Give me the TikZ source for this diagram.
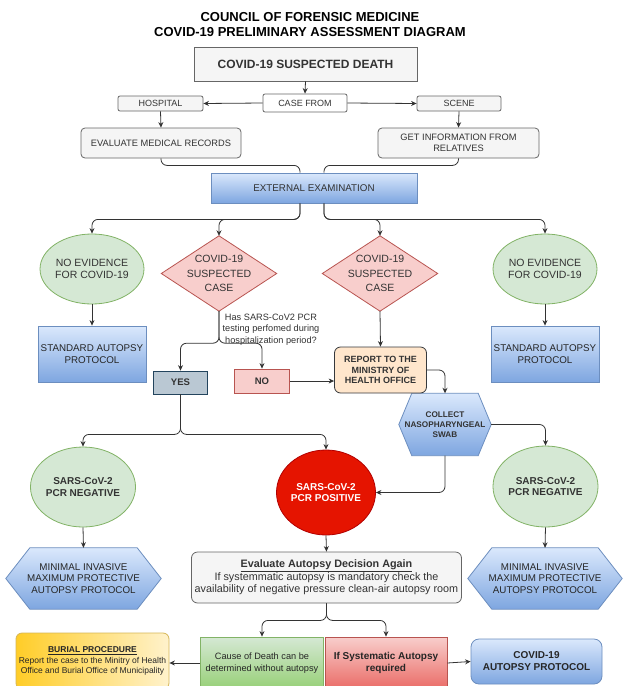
\documentclass[tikz,border=0pt]{standalone}
\usepackage{fontspec}
\setmainfont{Liberation Sans}
\usetikzlibrary{arrows.meta,shapes.geometric,calc,backgrounds}
\definecolor{txtc}{HTML}{333333}
\definecolor{linec}{HTML}{333333}
\definecolor{gbf}{HTML}{F5F5F5}
\definecolor{gbd}{HTML}{666666}
\definecolor{blueT}{HTML}{DAE8FC}
\definecolor{blueB}{HTML}{7EA6E0}
\definecolor{blueD}{HTML}{6C8EBF}
\definecolor{greenF}{HTML}{D5E8D4}
\definecolor{greenD}{HTML}{82B366}
\definecolor{greenB}{HTML}{97D077}
\definecolor{redF}{HTML}{F8CECC}
\definecolor{redD}{HTML}{B85450}
\definecolor{redB}{HTML}{EA6B66}
\definecolor{yesF}{HTML}{BAC8D3}
\definecolor{yesD}{HTML}{23445D}
\definecolor{peachF}{HTML}{FFE6CC}
\definecolor{peachD}{HTML}{36393D}
\definecolor{posF}{HTML}{E51400}
\definecolor{posD}{HTML}{B20000}
\definecolor{yelL}{HTML}{FFCD28}
\definecolor{yelR}{HTML}{FFF2CC}
\definecolor{yelD}{HTML}{D6B656}
\newcommand\fsz[2]{\fontsize{#1pt}{#2pt}\selectfont}
\begin{document}
\begin{tikzpicture}[x=1pt,y=-1pt,
  base/.style={line width=0.8pt, inner sep=0pt, align=center, text=txtc},
  graybox/.style={base, draw=gbd, fill=gbf},
  bluebox/.style={base, draw=blueD, top color=blueT, bottom color=blueB},
  greenell/.style={base, ellipse, draw=greenD, fill=greenF},
  invis/.style={inner sep=0pt, align=center, text=txtc},
  polyblue/.style={line width=0.8pt, draw=blueD, top color=blueT, bottom color=blueB},
  polyred/.style={line width=0.8pt, draw=redD, fill=redF},
  conn/.style={line width=0.8pt, draw=linec, rounded corners=6pt},
  arr/.style={conn, -{Stealth[length=5.5pt,width=5pt]}},
]
\useasboundingbox (0,0) rectangle (622,686);

% title
\node[invis, font=\bfseries\fsz{13}{15}, text=black] (title) at (310,24.5)
  {COUNCIL OF FORENSIC MEDICINE\\COVID-19 PRELIMINARY ASSESSMENT DIAGRAM};

% top part
\node[graybox, minimum width=223pt, minimum height=34pt, font=\bfseries\fsz{12}{14}] (death) at (305.5,64) {COVID-19 SUSPECTED DEATH};
\node[base, draw=gbd, fill=white, rounded corners=2pt, minimum width=84pt, minimum height=18pt, font=\fsz{9}{11}] (casefrom) at (305,103) {CASE FROM};
\node[graybox, rounded corners=2pt, minimum width=85pt, minimum height=15pt, font=\fsz{9}{11}] (hospital) at (160.5,103.5) {HOSPITAL};
\node[graybox, rounded corners=2pt, minimum width=84pt, minimum height=15pt, font=\fsz{9}{11}] (scene) at (459,103.5) {SCENE};
\node[graybox, rounded corners=4pt, minimum width=160pt, minimum height=30pt, font=\fsz{9.3}{11}] (eval) at (161,143) {EVALUATE MEDICAL RECORDS};
\node[graybox, rounded corners=4pt, minimum width=161pt, minimum height=30pt, font=\fsz{9.3}{11}] (getinfo) at (458.5,143) {GET INFORMATION FROM\\RELATIVES};
\node[bluebox, minimum width=206pt, minimum height=30pt, font=\fsz{9.8}{12}] (ext) at (314,188) {EXTERNAL EXAMINATION};

% second row
\node[greenell, minimum width=94pt, minimum height=70pt, font=\fsz{10.5}{12.5}] (ne1) at (92,269) {NO EVIDENCE\\FOR COVID-19};
\node[greenell, minimum width=94pt, minimum height=70pt, font=\fsz{10.5}{12.5}] (ne2) at (545,269) {NO EVIDENCE\\FOR COVID-19};
\node[invis, minimum width=115pt, minimum height=75pt, font=\fsz{10.5}{14.5}] (d1) at (219,273.5) {COVID-19\\SUSPECTED\\CASE};
\node[invis, minimum width=115pt, minimum height=75pt, font=\fsz{10.5}{14.5}] (d2) at (380,273.5) {COVID-19\\SUSPECTED\\CASE};
\node[bluebox, minimum width=108pt, minimum height=56pt, font=\fsz{9.8}{12}, text=black!85] (std1) at (92,354) {STANDARD AUTOPSY\\PROTOCOL};
\node[bluebox, minimum width=108pt, minimum height=56pt, font=\fsz{9.8}{12}, text=black!85] (std2) at (545,354) {STANDARD AUTOPSY\\PROTOCOL};
\node[invis, font=\fsz{9.2}{11.5}] (question) at (271,329.5) {Has SARS-CoV2 PCR\\testing perfomed during\\hospitalization period?};

% third row
\node[base, draw=yesD, fill=yesF, minimum width=54pt, minimum height=23pt, font=\bfseries\fsz{9.5}{11}] (yes) at (180.5,382.5) {YES};
\node[base, draw=redD, fill=redF, minimum width=55pt, minimum height=24pt, font=\bfseries\fsz{9.5}{11}] (no) at (262,381) {NO};
\node[base, draw=peachD, fill=peachF, rounded corners=6pt, minimum width=92pt, minimum height=46pt, font=\bfseries\fsz{9}{10.5}] (report) at (380.5,370) {REPORT TO THE\\MINISTRY OF\\HEALTH OFFICE};
\node[invis, minimum width=92pt, minimum height=62pt, font=\bfseries\fsz{8.2}{10}] (collect) at (445,424.5) {COLLECT\\NASOPHARYNGEAL\\SWAB};

% fourth row
\node[greenell, minimum width=80pt, minimum height=80pt, font=\bfseries\fsz{10}{11.5}] (neg1) at (83,487) {SARS-CoV-2\\PCR NEGATIVE};
\node[greenell, minimum width=85pt, minimum height=81pt, font=\bfseries\fsz{10}{11.5}] (neg2) at (545.5,486.5) {SARS-CoV-2\\PCR NEGATIVE};
\node[base, ellipse, draw=posD, fill=posF, text=white, minimum width=84pt, minimum height=85pt, font=\bfseries\fsz{10}{10.5}] (pos) at (326,492.5) {SARS-CoV-2\\PCR POSITIVE};

% fifth row
\node[invis, minimum width=155pt, minimum height=61pt, font=\fsz{9.8}{11.7}, text=black!85] (min1) at (83.5,578.5) {MINIMAL INVASIVE\\MAXIMUM PROTECTIVE\\AUTOPSY PROTOCOL};
\node[invis, minimum width=154pt, minimum height=61pt, font=\fsz{9.8}{11.7}, text=black!85] (min2) at (545,578.5) {MINIMAL INVASIVE\\MAXIMUM PROTECTIVE\\AUTOPSY PROTOCOL};
\node[graybox, rounded corners=6pt, minimum width=270pt, minimum height=51pt, font=\fsz{10.8}{12}] (evalagain) at (326.5,577.5)
  {\textbf{\underline{Evaluate Autopsy Decision Again}}\\If systemmatic autopsy is mandatory check the\\availability of negative pressure clean-air autopsy room};

% bottom row
\node[base, draw=greenD, top color=greenF, bottom color=greenB, minimum width=123pt, minimum height=52pt, font=\fsz{9.2}{12}, text=black!85] (greenbox) at (262,663) {Cause of Death can be\\determined without autopsy};
\node[base, draw=redD, top color=redF, bottom color=redB, minimum width=122pt, minimum height=52pt, font=\bfseries\fsz{10}{12}, text=black!85] (redbox) at (386,663) {If Systematic Autopsy\\required};
\node[base, draw=yelD, left color=yelL, right color=yelR, rounded corners=6pt, minimum width=153pt, minimum height=56pt, font=\fsz{8.5}{10.5}, text=black!85] (burial) at (92.5,661)
  {\textbf{\underline{BURIAL PROCEDURE}}\\Report the case to the Minitry of Health\\Office and Burial Office of Municipality};
\node[bluebox, rounded corners=8pt, minimum width=131pt, minimum height=45pt, font=\bfseries\fsz{10}{12}, text=black!85] (covidauto) at (536.5,661.5) {COVID-19\\AUTOPSY PROTOCOL};

% white page and polygon shapes behind their text nodes
\begin{pgfonlayer}{background}
\fill[white] (0,0) rectangle (622,686);
\path[polyred] (d1.north) -- (d1.east) -- (d1.south) -- (d1.west) -- cycle;
\path[polyred] (d2.north) -- (d2.east) -- (d2.south) -- (d2.west) -- cycle;
\path[polyblue] ($(collect.north west)+(13,0)$) -- ($(collect.north east)+(-13,0)$) -- (collect.east)
   -- ($(collect.south east)+(-13,0)$) -- ($(collect.south west)+(13,0)$) -- (collect.west) -- cycle;
\path[polyblue] ($(min1.north west)+(24,0)$) -- ($(min1.north east)+(-24,0)$) -- (min1.east)
   -- ($(min1.south east)+(-24,0)$) -- ($(min1.south west)+(24,0)$) -- (min1.west) -- cycle;
\path[polyblue] ($(min2.north west)+(24,0)$) -- ($(min2.north east)+(-24,0)$) -- (min2.east)
   -- ($(min2.south east)+(-24,0)$) -- ($(min2.south west)+(24,0)$) -- (min2.west) -- cycle;
\end{pgfonlayer}

% connectors
\draw[arr] (death.south) -- (casefrom.north);
\draw[arr] (casefrom.west) -- (hospital.east);
\draw[arr] (casefrom.east) -- (scene.west);
\draw[arr] (hospital.south) -- (eval.north);
\draw[arr] (scene.south) -- (getinfo.north);
\draw[conn] (eval.south) -- ++(0,7) -| ($(ext.north)+(-14,0)$);
\draw[conn] (getinfo.south) -- ++(0,7) -| ($(ext.north)+(10,0)$);
\draw[arr] ($(ext.south)+(-14,0)$) -- ++(0,16) -| (ne1.north);
\draw[arr] ($(ext.south)+(-14,0)$) -- ++(0,16) -| (d1.north);
\draw[arr] ($(ext.south)+(10,0)$) -- ++(0,16) -| (d2.north);
\draw[arr] ($(ext.south)+(10,0)$) -- ++(0,16) -| (ne2.north);
\draw[arr] (ne1.south) -- (std1.north);
\draw[arr] (ne2.south) -- (std2.north);
\draw[arr] (d1.south) -- ++(0,32) -| (yes.north);
\draw[arr] (d1.south) -- ++(0,32) -| (no.north);
\draw[arr] (d2.south) -- (report.north);
\draw[arr] (no.east) -- (no.east -| report.west);
\draw[arr] (report.east) -| (collect.north);
\draw[arr] (collect.east) -| (neg2.north);
\draw[arr] (collect.south) |- (pos.east);
\draw[arr] (yes.south) -- ++(0,40) -| (neg1.north);
\draw[arr] (yes.south) -- ++(0,40) -| (pos.north);
\draw[arr] (neg1.south) -- (min1.north);
\draw[arr] (neg2.south) -- (min2.north);
\draw[arr] (pos.south) -- (evalagain.north);
\draw[arr] (evalagain.south) -- ++(0,17) -| (greenbox.north);
\draw[arr] (evalagain.south) -- ++(0,17) -| (redbox.north);
\draw[arr] (greenbox.west) -- (greenbox.west -| burial.east);
\draw[arr] (redbox.east) -- (covidauto.west);
\end{tikzpicture}
\end{document}
